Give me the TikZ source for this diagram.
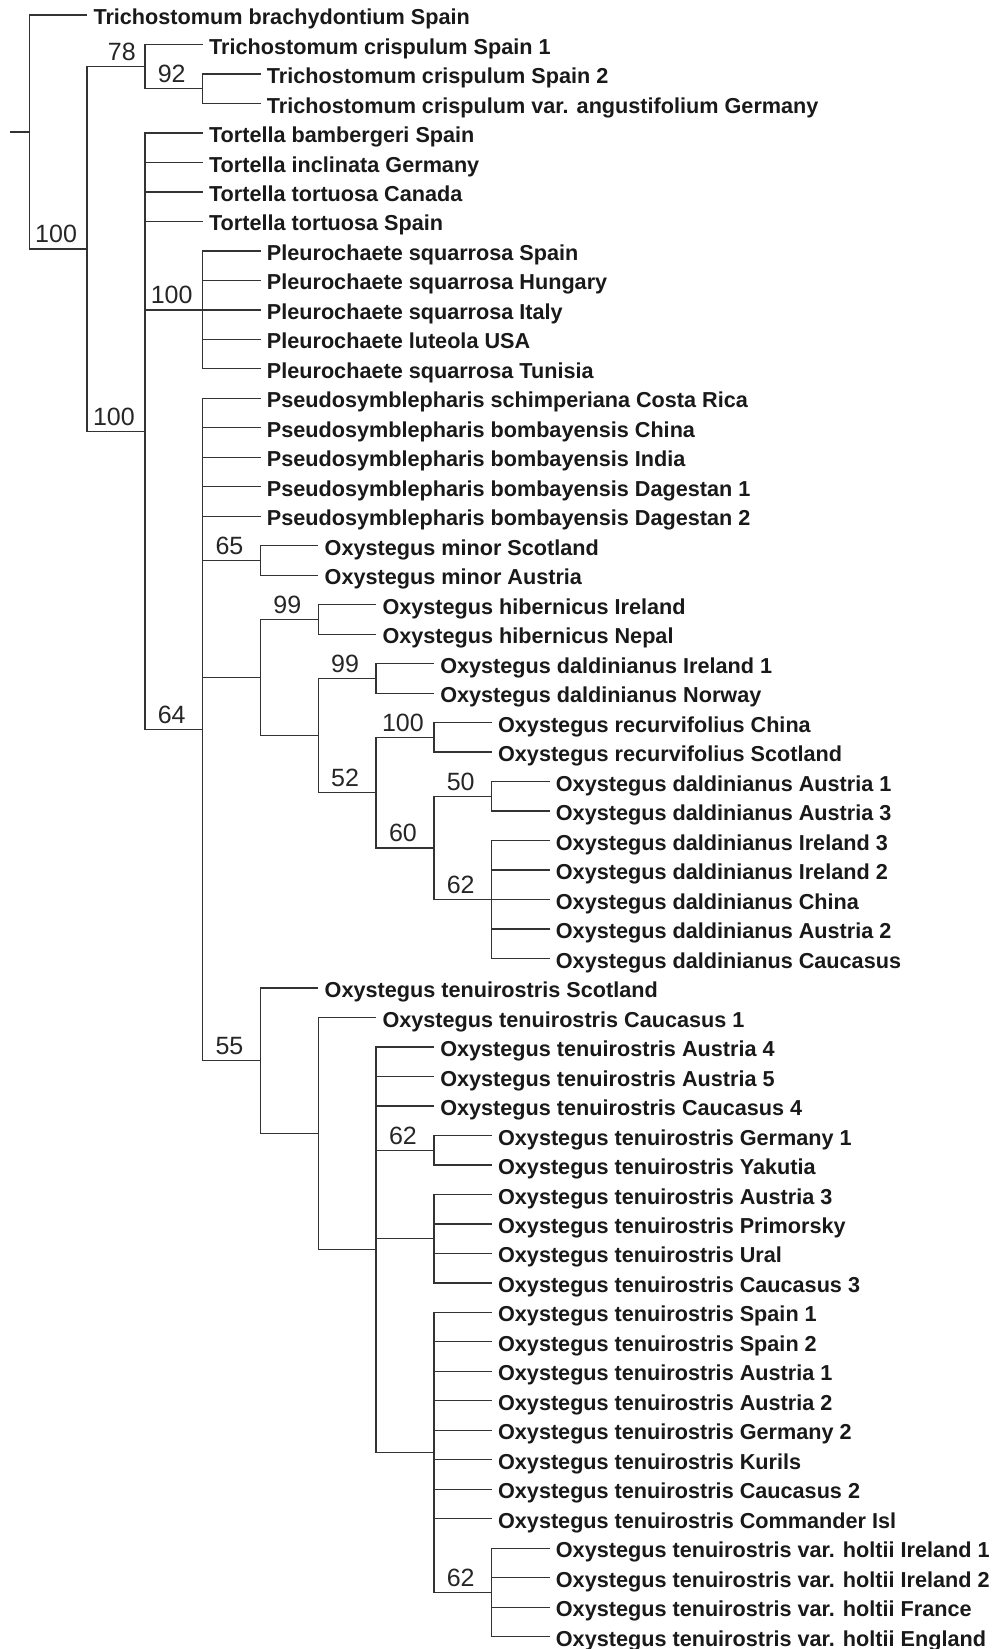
\documentclass[tikz,border=0pt]{standalone}
\usepackage{fontspec}
\setmainfont{Liberation Sans}
\usepackage{tikz}
\usetikzlibrary{positioning}

\begin{document}
\begin{tikzpicture}[
    x=0.5pt, y=-0.5pt,
    branch/.style={draw=black!80, line width=0.65pt},
    taxon/.style={anchor=west, inner xsep=3pt, inner ysep=0pt, text height=9.6pt, text depth=0pt, font=\fontsize{10.82}{12}\selectfont\bfseries, text=black!90},
    support/.style={anchor=base, inner sep=0pt, xshift=-15.5pt, yshift=3pt, font=\fontsize{12.5}{14}\selectfont, text=black!85},
]
\useasboundingbox (0,0) rectangle (994,1649);

% ========== Taxa (tips) ==========
\foreach \i/\x/\lab in {
    1/87.1/Trichostomum brachydontium Spain,
    2/202.7/Trichostomum crispulum Spain 1,
    3/260.5/Trichostomum crispulum Spain 2,
    4/260.5/Trichostomum crispulum var. angustifolium Germany,
    5/202.7/Tortella bambergeri Spain,
    6/202.7/Tortella inclinata Germany,
    7/202.7/Tortella tortuosa Canada,
    8/202.7/Tortella tortuosa Spain,
    9/260.5/Pleurochaete squarrosa Spain,
    10/260.5/Pleurochaete squarrosa Hungary,
    11/260.5/Pleurochaete squarrosa Italy,
    12/260.5/Pleurochaete luteola USA,
    13/260.5/Pleurochaete squarrosa Tunisia,
    14/260.5/Pseudosymblepharis schimperiana Costa Rica,
    15/260.5/Pseudosymblepharis bombayensis China,
    16/260.5/Pseudosymblepharis bombayensis India,
    17/260.5/Pseudosymblepharis bombayensis Dagestan 1,
    18/260.5/Pseudosymblepharis bombayensis Dagestan 2,
    19/318.3/Oxystegus minor Scotland,
    20/318.3/Oxystegus minor Austria,
    21/376.1/Oxystegus hibernicus Ireland,
    22/376.1/Oxystegus hibernicus Nepal,
    23/433.9/Oxystegus daldinianus Ireland 1,
    24/433.9/Oxystegus daldinianus Norway,
    25/491.7/Oxystegus recurvifolius China,
    26/491.7/Oxystegus recurvifolius Scotland,
    27/549.5/Oxystegus daldinianus Austria 1,
    28/549.5/Oxystegus daldinianus Austria 3,
    29/549.5/Oxystegus daldinianus Ireland 3,
    30/549.5/Oxystegus daldinianus Ireland 2,
    31/549.5/Oxystegus daldinianus China,
    32/549.5/Oxystegus daldinianus Austria 2,
    33/549.5/Oxystegus daldinianus Caucasus,
    34/318.3/Oxystegus tenuirostris Scotland,
    35/376.1/Oxystegus tenuirostris Caucasus 1,
    36/433.9/Oxystegus tenuirostris Austria 4,
    37/433.9/Oxystegus tenuirostris Austria 5,
    38/433.9/Oxystegus tenuirostris Caucasus 4,
    39/491.7/Oxystegus tenuirostris Germany 1,
    40/491.7/Oxystegus tenuirostris Yakutia,
    41/491.7/Oxystegus tenuirostris Austria 3,
    42/491.7/Oxystegus tenuirostris Primorsky,
    43/491.7/Oxystegus tenuirostris Ural,
    44/491.7/Oxystegus tenuirostris Caucasus 3,
    45/491.7/Oxystegus tenuirostris Spain 1,
    46/491.7/Oxystegus tenuirostris Spain 2,
    47/491.7/Oxystegus tenuirostris Austria 1,
    48/491.7/Oxystegus tenuirostris Austria 2,
    49/491.7/Oxystegus tenuirostris Germany 2,
    50/491.7/Oxystegus tenuirostris Kurils,
    51/491.7/Oxystegus tenuirostris Caucasus 2,
    52/491.7/Oxystegus tenuirostris Commander Isl,
    53/549.5/Oxystegus tenuirostris var. holtii Ireland 1,
    54/549.5/Oxystegus tenuirostris var. holtii Ireland 2,
    55/549.5/Oxystegus tenuirostris var. holtii France,
    56/549.5/Oxystegus tenuirostris var. holtii England} {
    \node[taxon] (t\i) at (\x, {15+29.485*(\i-1)}) {\lab};
}

% ========== Internal nodes ==========
\coordinate (stub)  at (10, 131.95);
\coordinate (root)  at (29.3, 131.95);
\coordinate (nA)    at (87.1, 248.9);
\coordinate (n78)   at (144.9, 66.6);
\coordinate (n92)   at (202.7, 88.75);
\coordinate (nTort) at (144.9, 431.2);
\coordinate (nPleu) at (202.7, 309.85);
\coordinate (n64)   at (202.7, 729.55);
\coordinate (n65)   at (260.5, 560.45);
\coordinate (nX)    at (260.5, 677.5);
\coordinate (n99a)  at (318.3, 619.45);
\coordinate (nY)    at (318.3, 735.55);
\coordinate (n99b)  at (376.1, 678.45);
\coordinate (n52)   at (376.1, 792.65);
\coordinate (n100r) at (433.9, 737.35);
\coordinate (n60)   at (433.9, 847.95);
\coordinate (n50)   at (491.7, 796.35);
\coordinate (n62)   at (491.7, 899.55);
\coordinate (n55)   at (260.5, 1060.8);
\coordinate (nZ)    at (318.3, 1133.6);
\coordinate (nW)    at (376.1, 1249.7);
\coordinate (n62b)  at (433.9, 1150.15);
\coordinate (nV)    at (433.9, 1238.65);
\coordinate (nU)    at (433.9, 1452.43);
\coordinate (n62c)  at (491.7, 1592.45);

% ========== Branches ==========
\draw[branch] (stub) -- (root);
\foreach \p/\c in {root/t1, root/nA, nA/n78, nA/nTort, n78/t2, n78/n92, n92/t3, n92/t4,
    nTort/t5, nTort/t6, nTort/t7, nTort/t8, nTort/nPleu, nTort/n64,
    nPleu/t9, nPleu/t10, nPleu/t11, nPleu/t12, nPleu/t13,
    n64/t14, n64/t15, n64/t16, n64/t17, n64/t18, n64/n65, n64/nX, n64/n55,
    n65/t19, n65/t20, nX/n99a, nX/nY, n99a/t21, n99a/t22,
    nY/n99b, nY/n52, n99b/t23, n99b/t24, n52/n100r, n52/n60,
    n100r/t25, n100r/t26, n60/n50, n60/n62, n50/t27, n50/t28,
    n62/t29, n62/t30, n62/t31, n62/t32, n62/t33,
    n55/t34, n55/nZ, nZ/t35, nZ/nW,
    nW/t36, nW/t37, nW/t38, nW/n62b, nW/nV, nW/nU,
    n62b/t39, n62b/t40, nV/t41, nV/t42, nV/t43, nV/t44,
    nU/t45, nU/t46, nU/t47, nU/t48, nU/t49, nU/t50, nU/t51, nU/t52, nU/n62c,
    n62c/t53, n62c/t54, n62c/t55, n62c/t56} {
    \draw[branch] (\p) |- (\c);
}

% ========== Support values ==========
\foreach \n/\v in {nA/100, n92/92, nTort/100, nPleu/100, n64/64, n65/65, n99a/99, n99b/99,
    n100r/100, n52/52, n50/50, n60/60, n62/62, n55/55, n62b/62, n62c/62} {
    \node[support] (s\n) at (\n) {\v};
}
\node[support, xshift=4pt] (sn78) at (n78) {78};

\end{tikzpicture}
\end{document}
